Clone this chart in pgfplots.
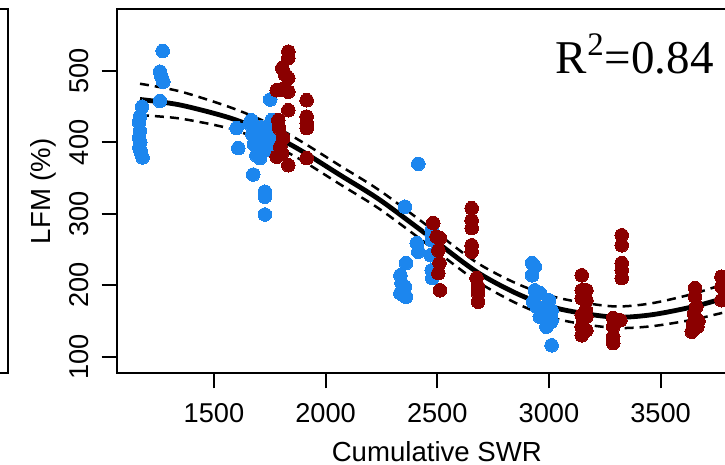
\documentclass[border=0pt]{standalone}
\usepackage{fontspec}
\setmainfont{Liberation Sans}
\newfontfamily\timesfont{Liberation Serif}
\usepackage{pgfplots}
\pgfplotsset{compat=1.18}
\definecolor{ptblue}{RGB}{28,134,238}
\definecolor{ptred}{RGB}{139,0,0}

\pgfplotstableread{
x y
1178 450
1168 436
1165 428
1168 416
1165 406
1170 400
1166 393
1172 386
1180 379
1270 528
1258 499
1265 492
1273 485
1258 458
1601 420
1609 392
1660 426
1667 431
1672 411
1680 397
1686 418
1697 403
1697 385
1703 395
1712 421
1717 405
1727 389
1733 399
1742 414
1748 424
1758 431
1752 460
1706 378
1690 382
1740 390
1750 405
1676 355
1728 331
1728 324
1728 299
2355 310
2415 370
2335 214
2340 203
2335 189
2360 184
2360 231
2355 198
2350 186
2408 259
2415 247
2475 277
2475 270
2475 263
2470 242
2475 221
2478 210
2925 231
2937 226
2925 214
2937 193
2959 189
2929 177
2967 168
2959 156
3012 165
3012 151
2989 142
3012 116
2945 170
2975 161
3000 179
3008 158
3010 149
}\blue

\pgfplotstableread{
x y
1833 527
1833 518
1806 504
1818 495
1833 490
1781 473
1800 474
1833 471
1833 445
1788 431
1792 420
1810 406
1797 394
1781 380
1833 368
1805 385
1915 459
1915 436
1915 427
1915 420
1915 378
2482 287
2497 268
2512 266
2505 249
2510 231
2505 217
2512 193
2654 308
2654 291
2654 280
2654 256
2654 247
2676 210
2683 198
2683 189
2683 177
3147 214
3147 193
3168 193
3147 182
3168 179
3165 165
3147 158
3168 156
3147 142
3168 137
3147 130
3326 270
3326 256
3326 231
3326 221
3326 210
3288 154
3320 151
3288 142
3288 128
3288 119
3655 196
3655 184
3660 170
3650 160
3670 150
3645 146
3665 142
3640 135
3773 212
3773 198
3773 179
}\red

% fitted curve with upper and lower band
\pgfplotstableread{
x fit up lo
1168.6 460.1 482.1 438.1
1347.7 452.4 471.4 433.4
1571.7 434.2 449.2 419.2
1741.8 413.2 427.2 399.2
1885.1 389.4 402.4 376.4
2064.3 354.4 367.4 341.4
2243.4 319.4 332.4 306.4
2467.3 267.6 280.6 254.6
2677.8 218.6 231.6 205.6
2870.4 186.4 200.4 172.4
3049.5 166.8 181.8 151.8
3282.4 155.6 170.6 140.6
3452.5 158.4 174.4 142.4
3640.6 169.6 187.6 151.6
3788.4 182.2 202.2 162.2
3850.0 188.0 210.0 166.0
}\fit

\begin{document}
\begin{tikzpicture}
\begin{axis}[name=ax, at={(0,0)}, anchor=south west, scale only axis,
  width=320.15pt, height=182pt,
  xmin=1064.3, xmax=3932, ymin=76.8, ymax=586.3,
  xtick={1500,2000,2500,3000,3500}, xticklabels={1500,2000,2500,3000,3500},
  ytick={100,200,300,400,500}, yticklabels={100,200,300,400,500},
  xtick pos=bottom, ytick pos=left, tick align=outside, major tick length=7.5pt,
  tick style={line width=1pt, black}, axis line style={line width=1.1pt},
  ticklabel style={font=\fontsize{13.6}{16}\selectfont},
  xticklabel style={anchor=base, yshift=-17pt},
  yticklabel shift=6.5pt,
  yticklabel style={rotate=90, anchor=base},
  clip=false]
\addplot[only marks, color=ptblue, mark=*, mark size=3.4pt, mark options={draw=ptblue, fill=ptblue, line width=0pt}] table[x=x, y=y] {\blue};
\addplot[only marks, color=ptred, mark=*, mark size=3.4pt, mark options={draw=ptred, fill=ptred, line width=0pt}] table[x=x, y=y] {\red};
\addplot[smooth, black, line width=1.25pt, dash pattern=on 4.5pt off 3pt] table[x=x, y=up] {\fit};
\addplot[smooth, black, line width=1.25pt, dash pattern=on 4.5pt off 3pt] table[x=x, y=lo] {\fit};
\addplot[smooth, black, line width=2.4pt] table[x=x, y=fit] {\fit};
\node[anchor=base west, font=\timesfont\fontsize{23.5}{28}\selectfont] at (axis cs:3000,496.8) {R\textsuperscript{2}=0.84};
\end{axis}
\node[anchor=base, font=\fontsize{13.8}{16}\selectfont] at ([yshift=-44.2pt]ax.south) {Cumulative SWR};
\node[anchor=base, rotate=90, font=\fontsize{13.8}{16}\selectfont] at ([xshift=-32.85pt]ax.west) {LFM (\%)};
% right edge of the neighbouring panel
\draw[line width=1.1pt] (-60pt,0) -- (-54.2pt,0) -- (-54.2pt,182pt) -- (-60pt,182pt);
\pgfresetboundingbox
\useasboundingbox (-58.35pt,-45.85pt) rectangle (304.15pt,186.65pt);
\end{tikzpicture}
\end{document}
